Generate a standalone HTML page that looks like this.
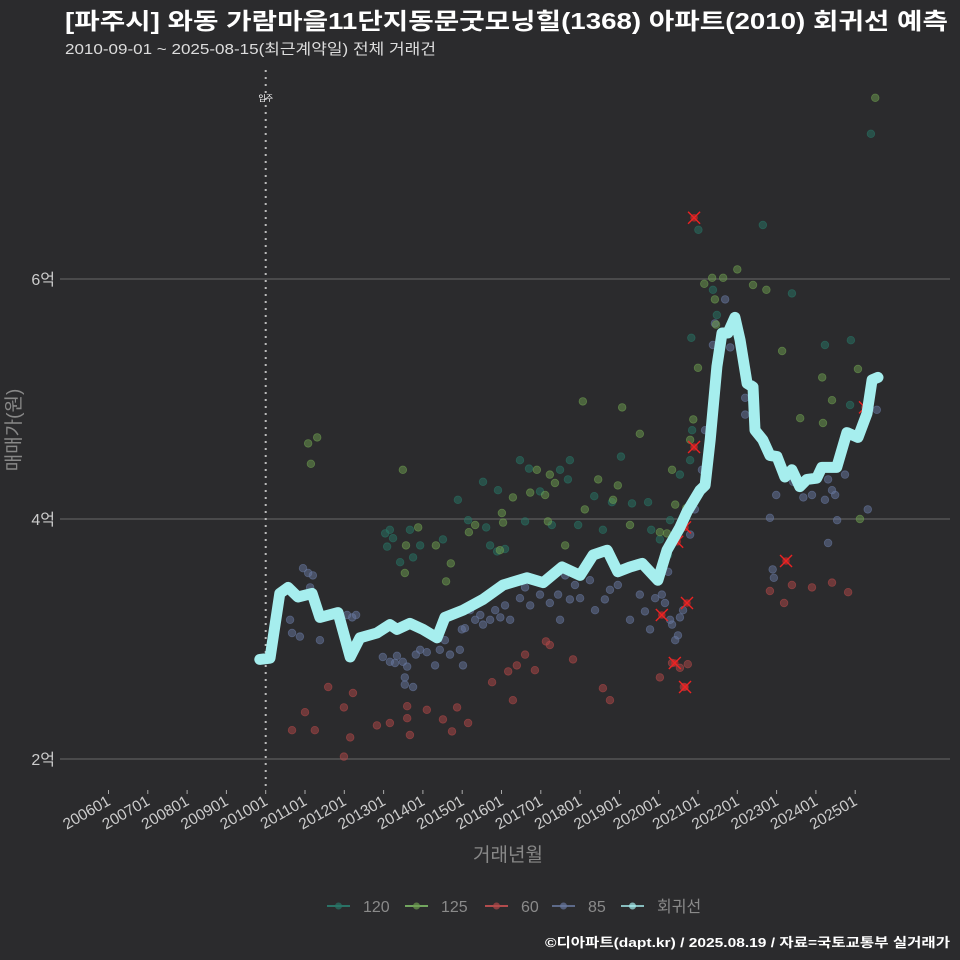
<!DOCTYPE html>
<html><head><meta charset="utf-8">
<style>
html,body{margin:0;padding:0;background:#2b2b2d;}
svg{display:block;font-family:"Liberation Sans","Noto Sans CJK KR",sans-serif;}
</style></head>
<body>
<svg id="chart" width="960" height="960" viewBox="0 0 960 960">
<rect width="960" height="960" fill="#2b2b2d"/>
<text x="65" y="29" fill="#ffffff" font-size="23" font-weight="bold" textLength="883" lengthAdjust="spacingAndGlyphs">[파주시] 와동 가람마을11단지동문굿모닝힐(1368) 아파트(2010) 회귀선 예측</text>
<text x="65" y="54" fill="#dddddd" font-size="15" textLength="371" lengthAdjust="spacingAndGlyphs">2010-09-01 ~ 2025-08-15(최근계약일) 전체 거래건</text>
<g id="grid"></g>
<g id="points"></g>
<g id="line"></g>
<g id="xaxis"></g>
<text x="20" y="430" fill="#888888" font-size="19" transform="rotate(-90 20 430)" text-anchor="middle">매매가(원)</text>
<text x="508" y="861" fill="#888888" font-size="19" text-anchor="middle">거래년월</text>
<g id="legend"></g>
<text x="950" y="947" fill="#ffffff" font-size="13" font-weight="bold" text-anchor="end" textLength="405" lengthAdjust="spacingAndGlyphs">©디아파트(dapt.kr) / 2025.08.19 / 자료=국토교통부 실거래가</text>
</svg>
<script>
const yTicks = [2, 4, 6];
const yTickLabels = ["2억", "4억", "6억"];
const xTickYears = [2006,2007,2008,2009,2010,2011,2012,2013,2014,2015,2016,2017,2018,2019,2020,2021,2022,2023,2024,2025];
const xTickLabels = ["200601","200701","200801","200901","201001","201101","201201","201301","201401","201501","201601","201701","201801","201901","202001","202101","202201","202301","202401","202501"];
const moveInYear = 2010.0;

const s60 = [[2010.67,2.24],[2011.00,2.39],[2011.25,2.24],[2011.59,2.60],[2011.99,2.43],[2011.99,2.02],[2012.15,2.18],[2012.22,2.55],[2012.83,2.28],[2013.16,2.30],[2013.60,2.44],[2013.60,2.34],[2013.67,2.20],[2014.10,2.41],[2014.51,2.33],[2014.74,2.23],[2014.87,2.43],[2015.15,2.30],[2015.76,2.64],[2016.17,2.73],[2016.29,2.49],[2016.39,2.78],[2016.60,2.87],[2016.85,2.74],[2017.13,2.98],[2017.23,2.95],[2017.82,2.83],[2018.58,2.59],[2018.76,2.49],[2020.03,2.68],[2020.34,2.80],[2020.54,2.76],[2020.64,2.60],[2020.74,2.79],[2022.83,3.40],[2023.19,3.30],[2023.39,3.45],[2023.90,3.43],[2024.41,3.47],[2024.82,3.39]];
const s85 = [[2010.62,3.16],[2010.67,3.05],[2010.87,3.02],[2010.95,3.59],[2011.08,3.55],[2011.13,3.43],[2011.20,3.53],[2011.38,2.99],[2012.07,3.20],[2012.20,3.18],[2012.30,3.20],[2012.98,2.85],[2013.16,2.81],[2013.29,2.80],[2013.34,2.86],[2013.49,2.81],[2013.54,2.62],[2013.54,2.68],[2013.60,2.77],[2013.75,2.60],[2013.82,2.87],[2013.93,2.91],[2014.10,2.89],[2014.31,2.78],[2014.43,2.91],[2014.56,2.99],[2014.69,2.87],[2014.94,2.91],[2014.99,3.08],[2015.07,3.09],[2015.02,2.78],[2015.20,3.24],[2015.33,3.16],[2015.46,3.20],[2015.53,3.12],[2015.71,3.16],[2015.84,3.24],[2015.97,3.18],[2016.09,3.28],[2016.22,3.16],[2016.47,3.34],[2016.60,3.43],[2016.73,3.28],[2016.98,3.37],[2017.11,3.49],[2017.23,3.30],[2017.44,3.37],[2017.49,3.16],[2017.62,3.53],[2017.74,3.33],[2017.87,3.45],[2018.00,3.34],[2018.25,3.49],[2018.38,3.24],[2018.63,3.33],[2018.76,3.41],[2018.96,3.45],[2019.14,3.58],[2019.27,3.16],[2019.52,3.37],[2019.65,3.23],[2019.78,3.08],[2019.91,3.34],[2020.08,3.37],[2020.16,3.30],[2020.24,3.56],[2020.29,3.16],[2020.34,3.12],[2020.42,2.99],[2020.49,3.03],[2020.54,3.18],[2020.62,3.24],[2020.80,3.87],[2020.92,4.08],[2021.05,4.24],[2021.10,4.41],[2021.18,4.74],[2021.38,5.45],[2021.43,5.63],[2021.69,5.83],[2021.82,5.43],[2022.20,5.01],[2022.20,4.87],[2022.38,5.12],[2022.99,4.20],[2023.42,4.31],[2023.68,4.18],[2023.90,4.20],[2024.31,4.33],[2024.41,4.24],[2024.49,4.20],[2024.54,3.99],[2024.74,4.37],[2025.32,4.08],[2025.55,4.91],[2022.83,4.01],[2022.90,3.58],[2022.93,3.51],[2024.31,3.80],[2024.23,4.16]];
const s125 = [[2011.08,4.63],[2011.15,4.46],[2011.31,4.68],[2013.49,4.41],[2013.88,3.93],[2013.54,3.55],[2013.57,3.78],[2014.33,3.78],[2014.59,3.48],[2014.71,3.63],[2015.17,3.89],[2015.33,3.95],[2015.96,3.74],[2016.01,4.05],[2016.04,3.97],[2016.29,4.18],[2016.73,4.22],[2016.90,4.41],[2017.11,4.20],[2017.18,3.98],[2017.23,4.37],[2017.36,4.30],[2017.62,3.78],[2018.12,4.08],[2018.07,4.98],[2018.46,4.33],[2018.84,4.16],[2018.96,4.28],[2019.07,4.93],[2019.27,3.95],[2019.52,4.71],[2020.03,3.89],[2020.21,3.88],[2020.42,4.12],[2020.34,4.41],[2020.70,4.09],[2020.80,4.66],[2020.88,4.83],[2021.00,5.26],[2021.16,5.96],[2021.36,6.01],[2021.43,5.83],[2021.46,5.62],[2021.64,6.01],[2022.00,6.08],[2022.40,5.95],[2022.74,5.91],[2023.14,5.40],[2023.60,4.84],[2024.16,5.18],[2024.18,4.80],[2024.41,4.99],[2025.07,5.25],[2025.12,4.00],[2025.38,4.99],[2025.51,7.51]];
const s120 = [[2013.04,3.88],[2013.09,3.77],[2013.16,3.91],[2013.24,3.84],[2013.42,3.64],[2013.67,3.91],[2013.75,3.68],[2013.93,3.78],[2014.51,3.83],[2014.89,4.16],[2015.15,3.99],[2015.53,4.31],[2015.61,3.93],[2015.71,3.78],[2015.89,3.73],[2016.09,3.75],[2016.60,3.98],[2016.47,4.49],[2015.91,4.24],[2016.70,4.42],[2016.98,4.23],[2017.28,3.95],[2017.69,4.33],[2017.49,4.41],[2017.74,4.49],[2017.95,3.95],[2018.36,4.19],[2018.58,3.91],[2018.81,4.14],[2019.04,4.52],[2019.32,4.13],[2019.73,4.14],[2019.81,3.91],[2020.03,3.83],[2020.24,3.70],[2020.29,3.99],[2020.54,4.37],[2020.80,4.49],[2020.85,4.74],[2020.83,5.51],[2021.01,6.41],[2021.38,5.91],[2021.48,5.70],[2022.65,6.45],[2023.39,5.88],[2024.23,5.45],[2024.89,5.49],[2024.87,4.95],[2025.40,7.21]];
const cancelled = [[2020.90,6.51],[2020.90,4.60],[2020.67,3.93],[2020.47,3.81],[2020.72,3.30],[2020.08,3.20],[2020.41,2.80],[2020.67,2.60],[2023.24,3.65],[2025.25,4.93]];
const regYears = [2009.85,2010.11,2010.36,2010.57,2010.82,2011.18,2011.38,2011.84,2012.15,2012.40,2012.83,2013.16,2013.34,2013.67,2014.00,2014.36,2014.56,2015.02,2015.53,2016.04,2016.65,2017.06,2017.54,2018.00,2018.33,2018.51,2018.69,2018.96,2019.27,2019.58,2019.98,2020.21,2020.54,2020.72,2021.05,2021.18,2021.31,2021.48,2021.61,2021.76,2021.94,2022.07,2022.25,2022.40,2022.45,2022.65,2022.83,2023.01,2023.21,2023.39,2023.59,2023.77,2024.02,2024.15,2024.53,2024.79,2025.07,2025.30,2025.43,2025.58];
const regValues = [2.83,2.84,3.38,3.43,3.35,3.38,3.18,3.22,2.85,3.01,3.05,3.12,3.08,3.13,3.08,3.01,3.18,3.24,3.33,3.45,3.51,3.47,3.60,3.53,3.70,3.72,3.74,3.56,3.60,3.63,3.49,3.74,3.93,4.06,4.24,4.28,4.66,5.27,5.55,5.55,5.68,5.49,5.13,5.10,4.74,4.66,4.53,4.52,4.35,4.41,4.27,4.33,4.34,4.43,4.43,4.72,4.68,4.88,5.16,5.18];
const legendLabels = ["120","125","60","85","회귀선"];

const NS = "http://www.w3.org/2000/svg";
const X0 = 60, X1 = 950, Y0 = 65, Y1 = 790;
function xS(yr){ return 265.7 + (yr - 2010) * 39.3; }
function yS(v){ return 759 - (v - 2) * 120; }
function mk(tag, attrs, parent){ const e = document.createElementNS(NS, tag); for (const k in attrs) e.setAttribute(k, attrs[k]); parent.appendChild(e); return e; }

const grid = document.getElementById('grid');
yTicks.forEach((v, i) => {
  const l = mk('line', {x1: X0, x2: X1, y1: yS(v), y2: yS(v), stroke: '#5e5e5e', 'stroke-width': 1.2}, grid);
  
  
  const t = mk('text', {x: 55, y: yS(v) + 6, fill: '#cccccc', 'font-size': 16, 'text-anchor': 'end'}, grid);
  t.textContent = yTickLabels[i];
  
  
});
const vl = mk('line', {x1: xS(moveInYear), x2: xS(moveInYear), y1: 70, y2: Y1, stroke: '#bbbbbb', 'stroke-width': 2, 'stroke-dasharray': '2,5'}, grid);


const vt = mk('text', {x: xS(moveInYear), y: 101, fill: '#ffffff', 'font-size': 8, 'text-anchor': 'middle'}, grid);
vt.textContent = '입주';



const xa = document.getElementById('xaxis');
xTickYears.forEach((yr, i) => {
  const x = xS(yr);
  const tk = mk('line', {x1: x, x2: x, y1: 790, y2: 794, stroke: '#aaaaaa', 'stroke-width': 1}, xa);
  
  
  const t = mk('text', {x: x + 3, y: 804, fill: '#cccccc', 'font-size': 15.5, 'text-anchor': 'end', transform: `rotate(-30 ${x + 3} 804)`}, xa);
  t.textContent = xTickLabels[i];
  
  
});

const pts = document.getElementById('points');
function drawSeries(arr, color, name){
  arr.forEach(p => {
    const c = mk('circle', {cx: xS(p[0]), cy: yS(p[1]), r: 3.8, fill: color, 'fill-opacity': 0.5, stroke: color, 'stroke-opacity': 0.6, 'stroke-width': 0.8}, pts);
    
    
  });
}
drawSeries(s85, '#6878a0', 'point-85');
drawSeries(s60, '#b04848', 'point-60');
drawSeries(s120, '#287566', 'point-120');
drawSeries(s125, '#6e9e50', 'point-125');
cancelled.forEach(p => {
  const x = xS(p[0]), y = yS(p[1]);
  const g = mk('g', {}, pts);
  
  
  mk('circle', {cx: x, cy: y, r: 3.8, fill: '#cc2a2a', 'fill-opacity': 0.7}, g);
  mk('path', {d: `M${x-6} ${y-6}L${x+6} ${y+6}M${x-6} ${y+6}L${x+6} ${y-6}`, stroke: '#ee2222', 'stroke-width': 1.4}, g);
});

const lg = document.getElementById('line');
const d = regYears.map((yr, i) => (i ? 'L' : 'M') + xS(yr).toFixed(1) + ' ' + yS(regValues[i]).toFixed(1)).join(' ');
const path = mk('path', {d: d, fill: 'none', stroke: '#a6eeee', 'stroke-width': 11, 'stroke-linejoin': 'round', 'stroke-linecap': 'round'}, lg);



const leg = document.getElementById('legend');
const legColors = ['#287566', '#6e9e50', '#b04848', '#6878a0', '#a6eeee'];
const legLine = ['#2a8a7a', '#8ad070', '#e05858', '#6e7fa8', '#a6eeee'];
const legX = [327, 405, 485, 552, 621];
legendLabels.forEach((lab, i) => {
  const g = mk('g', {}, leg);
  
  
  const x = legX[i];
  mk('line', {x1: x, x2: x + 23, y1: 906, y2: 906, stroke: legLine[i], 'stroke-width': 1.5}, g);
  mk('circle', {cx: x + 11.5, cy: 906, r: 3.5, fill: legColors[i], 'fill-opacity': 0.7}, g);
  const t = mk('text', {x: x + 36, y: 912, fill: '#8a8a8a', 'font-size': 16}, g);
  t.textContent = lab;
});
</script>
</body></html>
